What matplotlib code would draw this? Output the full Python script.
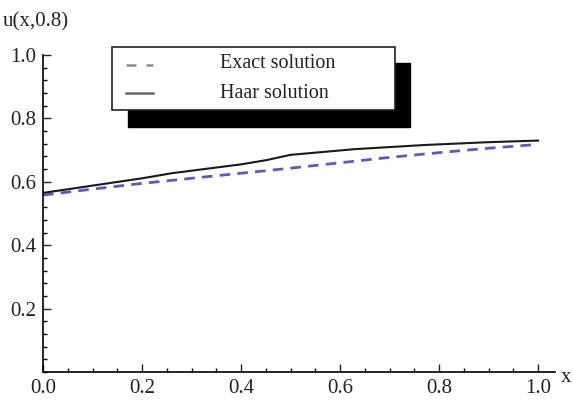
import numpy as np
import matplotlib.pyplot as plt
from matplotlib.patches import Rectangle
from matplotlib.lines import Line2D
from matplotlib.ticker import MultipleLocator

# values
x_exact = [0.0, 0.1, 0.2, 0.3, 0.4, 0.5, 0.6, 0.7, 0.8, 0.9, 1.0]
u_exact = [0.558, 0.577, 0.595, 0.611, 0.627, 0.643, 0.660, 0.677, 0.692, 0.706, 0.718]
x_haar = [0.0, 0.1, 0.2, 0.26, 0.4, 0.45, 0.5, 0.63, 0.77, 0.9, 1.0]
u_haar = [0.565, 0.588, 0.611, 0.627, 0.655, 0.668, 0.685, 0.703, 0.716, 0.725, 0.730]
legend_labels = ["Exact solution", "Haar solution"]

plt.rcParams['font.family'] = ['Liberation Serif', 'DejaVu Serif']

W, H = 573, 401
fig = plt.figure(figsize=(W/100, H/100), dpi=100)
# axes: x from pixel 43 to 555, y from pixel 372 (0) up to 55 (1.0)
ax = fig.add_axes([43/W, 1-372/H, (555-43)/W, (372-55)/H])

ax.plot(x_exact, u_exact, color='#5a5ac0', lw=2.0, dashes=(3.8, 2.6))
ax.plot(x_haar, u_haar, color='#1a1a1a', lw=1.5)

ax.set_xlim(0, 512/495)
ax.set_ylim(0, 1.0)
for s in ['top', 'right']:
    ax.spines[s].set_visible(False)
for s in ['left', 'bottom']:
    ax.spines[s].set_linewidth(1.2)
ax.set_xticks([0.0, 0.2, 0.4, 0.6, 0.8, 1.0])
ax.set_yticks([0.2, 0.4, 0.6, 0.8, 1.0])
ax.xaxis.set_minor_locator(MultipleLocator(0.05))
ax.yaxis.set_minor_locator(MultipleLocator(0.04))
ax.tick_params(which='major', direction='in', length=6, width=1, labelsize=15, colors='#222222', pad=5)
ax.tick_params(which='minor', direction='in', length=3, width=1)
ax.xaxis.set_major_formatter(plt.FuncFormatter(lambda v, p: f"{v:.1f}"))
ax.yaxis.set_major_formatter(plt.FuncFormatter(lambda v, p: f"{v:.1f}"))

fig.text(3/W, 1-22/H, "u(x,0.8)", fontsize=15, va='center', ha='left', color='#222222')
fig.text(566/W, 1-378/H, "x", fontsize=15, va='center', ha='center', color='#222222')

# legend with hard black shadow, drawn in figure pixel fractions
def fx(px):
    return px / W

def fy(py):
    return 1 - py / H

fig.add_artist(Rectangle((fx(128), fy(127)), fx(410) - fx(128), fy(63) - fy(127),
                         transform=fig.transFigure, facecolor='black', edgecolor='black', zorder=5))
fig.add_artist(Rectangle((fx(112), fy(110)), fx(395) - fx(112), fy(47) - fy(110),
                         transform=fig.transFigure, facecolor='white', edgecolor='#222222', lw=1.2, zorder=6))
fig.add_artist(Line2D([fx(126), fx(153)], [fy(65), fy(65)], transform=fig.transFigure,
                      color='#8a8a8a', lw=1.8, dashes=(4, 4), zorder=7))
fig.add_artist(Line2D([fx(126), fx(153)], [fy(93), fy(93)], transform=fig.transFigure,
                      color='#6a6a6a', lw=1.8, zorder=7))
for lab, py in zip(legend_labels, [64, 93]):
    fig.text(fx(220), fy(py), lab, fontsize=14.5, va='center', ha='left', color='#222222', zorder=8)

fig.savefig('out.png', dpi=100)
